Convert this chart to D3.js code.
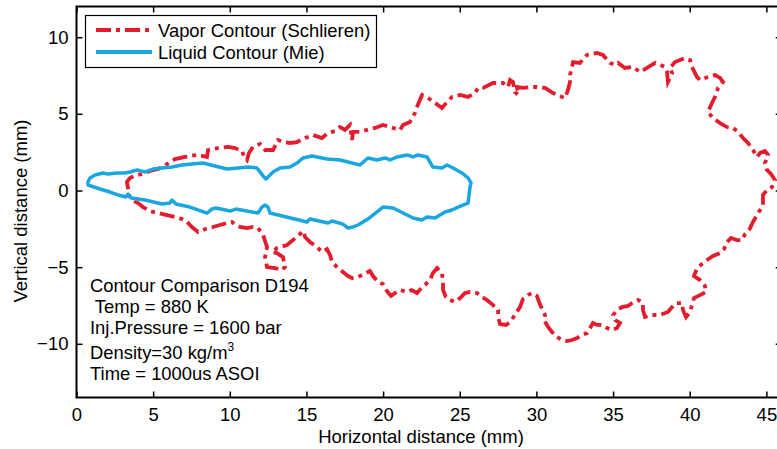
<!DOCTYPE html>
<html>
<head>
<meta charset="utf-8">
<script src="https://cdn.jsdelivr.net/npm/d3@7"></script>
<style>
  body { margin: 0; background: #fff; }
  svg { display: block; font-family: "Liberation Sans", Arial, Helvetica, sans-serif; }
</style>
</head>
<body>
<svg id="chart" width="777" height="449"></svg>
<script>
// axis ranges and ticks (mm)
const xDomain = [0, 46];
const yDomain = [-13.5, 12];
const xTicks = [0, 5, 10, 15, 20, 25, 30, 35, 40, 45];
const yTicks = [-10, -5, 0, 5, 10];

// liquid contour (Mie), [x mm, y mm], closed loop
const liquidContour = [
  [0.75,0.55],[0.88,0.82],[1.21,1.01],[1.73,1.14],[2.05,1.08],[2.64,1.14],[3.16,1.14],[3.49,1.21],
  [3.95,1.34],[4.47,1.21],[4.99,1.40],[5.58,1.47],[6.23,1.53],[6.88,1.66],[7.53,1.73],[8.25,1.79],
  [9.03,1.60],[9.82,1.40],[10.53,1.47],[11.19,1.53],[11.77,1.47],[12.17,0.95],[12.36,0.75],[12.82,1.21],
  [13.27,1.47],[13.93,1.53],[14.38,1.79],[14.77,2.12],[15.36,2.25],[16.34,2.05],[17.19,1.99],[18.49,1.66],
  [19.01,2.12],[19.60,1.99],[20.12,2.12],[20.45,1.99],[20.91,2.19],[21.56,2.32],[21.95,2.19],[22.28,2.32],
  [22.86,2.19],[23.25,1.53],[23.84,1.47],[24.17,1.66],[24.56,1.47],[25.15,1.14],[25.54,0.82],[25.73,0.49],
  [25.67,0.23],[25.54,-0.82],[25.21,-0.95],[24.89,-1.08],[24.49,-1.27],[24.04,-1.40],[23.71,-1.60],[23.39,-1.79],
  [22.86,-1.73],[22.54,-1.92],[21.95,-1.79],[21.30,-1.47],[20.65,-1.14],[19.99,-1.08],[19.01,-1.86],[18.36,-2.25],
  [18.04,-2.38],[17.71,-2.45],[17.38,-2.19],[16.67,-1.99],[16.41,-2.12],[15.23,-1.86],[15.04,-2.05],[12.62,-1.47],
  [12.49,-1.08],[12.30,-0.95],[12.10,-1.08],[11.84,-1.47],[10.40,-1.21],[10.01,-1.34],[9.10,-1.14],[8.84,-1.21],
  [8.51,-1.47],[7.40,-1.08],[6.49,-0.88],[6.23,-0.62],[6.10,-0.82],[5.58,-0.88],[4.47,-0.62],[3.56,-0.49],
  [3.36,-0.23],[3.23,-0.42],[2.71,-0.29],[2.19,-0.10],[1.53,0.10],[0.75,0.36]
];

// vapor contour (Schlieren), [x mm, y mm], closed loop
const vaporContour = [
  [3.36,0.16],[3.29,0.55],[3.49,0.82],[3.75,0.95],[4.27,1.08],[4.79,1.27],[5.32,1.40],[5.64,1.53],
  [6.10,1.86],[6.43,2.05],[7.08,2.19],[7.86,2.32],[8.51,2.19],[8.58,2.64],[9.23,2.77],[9.88,2.84],
  [10.34,2.77],[10.80,2.58],[10.93,2.19],[11.12,1.99],[11.25,2.45],[11.51,2.84],[11.97,3.03],[12.30,2.64],
  [12.82,2.64],[13.14,3.29],[13.47,3.16],[13.93,3.10],[14.38,3.16],[14.91,3.42],[15.43,3.62],[16.01,3.42],
  [16.41,3.75],[16.86,3.88],[17.19,4.14],[17.51,3.95],[17.84,4.27],[17.97,3.29],[18.04,3.82],[18.49,3.82],
  [18.95,3.95],[19.47,4.08],[19.99,4.27],[20.45,4.14],[21.10,3.95],[21.30,4.27],[21.75,4.47],[22.08,5.06],
  [22.21,5.45],[22.54,6.23],[22.93,6.03],[23.39,5.71],[23.84,5.38],[24.17,5.77],[24.49,6.10],[25.02,6.23],
  [25.54,6.10],[26.00,6.36],[26.19,6.69],[26.52,6.69],[27.17,7.01],[27.82,7.01],[28.15,6.75],[28.28,7.21],
  [28.47,7.08],[28.60,6.43],[28.80,6.23],[28.73,6.75],[29.12,6.69],[29.71,6.75],[30.04,6.75],[30.56,6.69],
  [31.08,6.36],[31.67,6.10],[31.87,6.03],[32.06,6.56],[32.19,7.08],[32.19,7.53],[32.32,8.06],[32.39,8.38],
  [32.84,8.32],[33.30,8.84],[33.95,8.97],[34.34,8.84],[34.80,8.32],[35.13,8.19],[35.32,8.32],[35.78,7.99],
  [36.30,8.06],[36.76,7.73],[37.21,7.99],[37.74,8.32],[38.06,8.19],[38.39,8.06],[38.52,7.73],[38.58,7.08],
  [38.85,7.66],[38.71,7.99],[39.04,8.38],[39.37,8.51],[39.69,8.64],[40.02,8.51],[40.15,8.06],[40.35,7.66],
  [40.48,7.40],[40.67,7.21],[41.19,7.40],[41.65,7.53],[41.98,7.34],[42.17,7.08],[41.85,6.69],[41.65,6.10],
  [41.45,5.71],[41.19,5.12],[41.52,4.73],[41.98,4.40],[42.43,4.14],[42.82,4.08],[43.15,3.82],[43.48,3.42],
  [43.80,3.10],[44.13,2.64],[44.39,2.19],[44.59,2.45],[44.91,2.58],[45.11,2.32],[44.91,1.79],[45.04,1.34],
  [45.30,1.08],[45.56,0.68],[45.37,0.23],[45.04,0.03],[44.78,-0.29],
  [44.78,-0.95],[44.59,-1.27],[44.39,-1.60],[44.13,-2.05],[43.87,-2.58],[43.61,-2.84],[43.41,-3.23],[43.08,-3.23],
  [42.69,-3.10],[42.43,-3.36],[42.24,-3.82],[41.98,-4.08],[41.52,-4.27],[41.13,-4.53],[40.80,-4.79],[40.48,-5.06],
  [40.28,-5.58],[40.67,-5.84],[41.00,-6.23],[41.06,-6.62],[40.67,-6.82],[40.28,-7.01],[40.15,-7.47],[40.02,-7.92],
  [39.76,-8.25],[39.56,-7.80],[39.50,-7.34],[39.11,-7.34],[38.85,-7.60],[38.58,-7.92],[38.06,-8.12],[37.54,-8.12],
  [37.08,-8.25],[36.95,-7.80],[36.95,-7.34],[36.63,-7.14],[36.24,-7.34],[35.97,-7.53],[35.58,-7.60],[35.26,-7.80],
  [35.00,-8.12],[35.13,-8.45],[35.45,-8.64],[35.26,-8.97],[34.93,-9.10],[34.61,-8.97],[34.28,-8.77],[33.95,-8.77],
  [33.69,-8.64],[33.50,-8.97],[33.30,-9.30],[32.97,-9.43],[32.65,-9.62],[32.32,-9.75],[32.00,-9.82],[31.67,-9.75],
  [31.34,-9.56],[31.02,-9.23],[30.76,-8.90],[30.50,-8.45],[30.56,-8.12],[30.37,-7.73],[30.17,-7.27],[30.04,-6.88],
  [29.71,-6.69],[29.45,-6.82],[29.12,-7.08],[28.93,-7.60],[28.60,-8.12],[28.28,-8.58],[28.02,-8.77],[27.63,-8.71],
  [27.50,-8.25],[27.50,-7.80],[27.17,-7.47],[26.78,-7.14],[26.45,-6.95],[26.13,-6.69],[25.67,-6.62],[25.34,-6.69],
  [25.02,-7.01],[24.69,-7.27],[24.36,-7.14],[24.10,-6.95],[23.91,-6.49],[23.91,-5.97],[23.84,-5.38],[23.52,-5.06],
  [23.25,-5.38],[23.06,-5.84],[22.73,-6.16],[22.54,-6.30],[22.21,-6.69],[21.88,-6.49],[21.56,-6.62],[21.10,-6.49],
  [20.78,-6.69],[20.52,-6.88],[20.25,-6.56],[19.99,-6.10],[19.67,-5.97],[19.34,-5.58],[19.14,-5.25],[18.75,-5.45],
  [18.36,-5.64],[17.97,-5.71],[17.71,-5.58],[17.38,-5.32],[16.99,-4.99],[16.67,-4.66],[16.54,-4.21],[16.34,-3.82],
  [16.01,-4.01],[15.69,-3.69],[15.23,-3.36],[14.91,-3.03],[14.77,-2.64],[14.45,-2.97],[14.12,-3.23],[13.73,-3.56],
  [13.08,-3.75],[12.75,-4.01],[13.08,-4.08],[13.47,-4.34],[13.60,-4.99],[13.41,-5.19],[12.95,-5.06],[12.43,-4.99],
  [12.30,-4.34],[12.43,-3.69],[12.17,-2.90],[11.84,-2.45],[11.51,-2.38],[11.12,-2.45],[10.67,-2.38],[10.40,-2.25],
  [10.14,-2.05],[9.82,-2.12],[9.36,-2.25],[8.90,-2.38],[8.58,-2.45],[8.25,-2.58],[7.93,-2.71],[7.53,-2.38],
  [7.21,-2.05],[6.88,-1.86],[6.43,-1.73],[5.90,-1.60],[5.32,-1.47],[4.79,-1.34],[4.34,-1.08],[4.01,-0.82],
  [3.62,-0.62],[3.42,-0.29]
];

const legendLabels = ["Vapor Contour (Schlieren)", "Liquid Contour (Mie)"];
const noteLines = ["Contour Comparison D194", " Temp = 880 K", "Inj.Pressure = 1600 bar", "Density=30 kg/m", "Time = 1000us ASOI"];

const vaporColor = "#e31d2d";
const liquidColor = "#1aa6e0";
const vaporDash = "15,5,4,5";

const svg = d3.select("#chart");
const plotLeft = 76.5, plotRight = 781.7, plotTop = 6.5, plotBottom = 397.5;

const x = d3.scaleLinear().domain(xDomain).range([plotLeft, plotRight]);
const y = d3.scaleLinear().domain(yDomain).range([plotBottom, plotTop]);

svg.append("defs").append("clipPath").attr("id", "plotClip")
  .append("rect").attr("x", plotLeft).attr("y", plotTop)
  .attr("width", plotRight - plotLeft).attr("height", plotBottom - plotTop);

const line = d3.line().x(d => x(d[0])).y(d => y(d[1])).curve(d3.curveLinearClosed);

const plot = svg.append("g").attr("clip-path", "url(#plotClip)");

plot.append("path")
  .attr("d", line(vaporContour))
  .attr("fill", "none")
  .attr("stroke", vaporColor)
  .attr("stroke-width", 3.8)
  .attr("stroke-dasharray", vaporDash);

plot.append("path")
  .attr("d", line(liquidContour))
  .attr("fill", "none")
  .attr("stroke", liquidColor)
  .attr("stroke-width", 3.5)
  .attr("stroke-linejoin", "round");

// axes: ticks point inward, like the original
const fmt = d3.format("d");
const gx = svg.append("g").attr("transform", `translate(0,${plotBottom})`)
  .call(d3.axisBottom(x).tickValues(xTicks).tickSize(-6).tickSizeOuter(0).tickPadding(10).tickFormat(fmt));
const gy = svg.append("g").attr("transform", `translate(${plotLeft},0)`)
  .call(d3.axisLeft(y).tickValues(yTicks).tickSize(-6).tickSizeOuter(0).tickPadding(8).tickFormat(fmt));
const gxt = svg.append("g").attr("transform", `translate(0,${plotTop})`)
  .call(d3.axisTop(x).tickValues(xTicks).tickSize(-6).tickSizeOuter(0).tickFormat(""));
const gyr = svg.append("g").attr("transform", `translate(${plotRight},0)`)
  .call(d3.axisRight(y).tickValues(yTicks).tickSize(-6).tickSizeOuter(0).tickFormat(""));

[gx, gy, gxt, gyr].forEach(g => {
  g.select(".domain").remove();
  g.selectAll(".tick line").attr("stroke", "#000").attr("stroke-width", 1.5);
  g.selectAll(".tick text").attr("fill", "#000").style("font-size", "18.5px")
    .style("font-family", '"Liberation Sans", Arial, sans-serif');
});

svg.append("rect")
  .attr("x", plotLeft).attr("y", plotTop)
  .attr("width", plotRight - plotLeft).attr("height", plotBottom - plotTop)
  .attr("fill", "none").attr("stroke", "#000").attr("stroke-width", 2);

// axis labels
svg.append("text")
  .attr("x", 421).attr("y", 443)
  .attr("text-anchor", "middle")
  .style("font-size", "18.5px")
  .text("Horizontal distance (mm)");

svg.append("text")
  .attr("transform", "translate(27,211) rotate(-90)")
  .attr("text-anchor", "middle")
  .style("font-size", "18.5px")
  .text("Vertical distance (mm)");

// legend
const legend = svg.append("g");
legend.append("rect")
  .attr("x", 85.5).attr("y", 15.5).attr("width", 291).attr("height", 52)
  .attr("fill", "#fff").attr("stroke", "#000").attr("stroke-width", 1.2);

const legendItems = [
  { label: legendLabels[0], color: vaporColor, dash: vaporDash, y: 30 },
  { label: legendLabels[1], color: liquidColor, dash: null, y: 52 }
];
legendItems.forEach(it => {
  legend.append("line")
    .attr("x1", 96).attr("x2", 152).attr("y1", it.y).attr("y2", it.y)
    .attr("stroke", it.color).attr("stroke-width", 3.8)
    .attr("stroke-dasharray", it.dash);
  legend.append("text")
    .attr("x", 158).attr("y", it.y + 6.5)
    .style("font-size", "18.4px")
    .text(it.label);
});

// annotation block
const noteBaselines = [292, 312.5, 334, 359, 380];
const note = svg.append("g").style("font-size", "18.4px");
noteLines.forEach((t, i) => {
  const txt = note.append("text")
    .attr("x", 90).attr("y", noteBaselines[i])
    .attr("xml:space", "preserve")
    .style("white-space", "pre")
    .text(t);
  if (i === 3) {
    txt.append("tspan").attr("dy", -8).style("font-size", "12px").text("3");
  }
});
</script>
</body>
</html>
